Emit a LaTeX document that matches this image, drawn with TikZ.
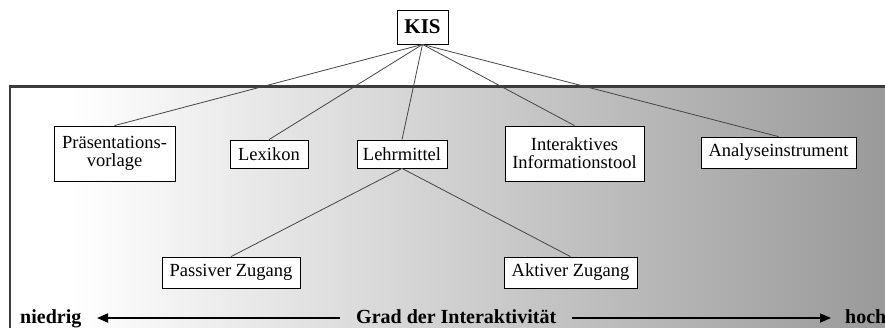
\documentclass[tikz,border=0pt]{standalone}
\usepackage{fontspec}
\setmainfont{Liberation Serif}
\usetikzlibrary{arrows.meta}
\definecolor{gradend}{HTML}{989898}
\definecolor{frame}{HTML}{3C3C3C}
\definecolor{conn}{HTML}{454545}
\tikzset{
  box/.style={draw=black, line width=0.8pt, fill=white, inner sep=0pt, align=center,
    font=\fontsize{18.5}{17.7}\selectfont},
  conn/.style={draw=conn, line width=0.8pt},
  scale lbl/.style={font=\bfseries\fontsize{20}{22}\selectfont, inner sep=0pt, anchor=base west},
  axisarrow/.style={line width=1.7pt, -{Triangle[length=11pt,width=9pt]}}
}
\begin{document}
\begin{tikzpicture}[x=1pt,y=-1pt]
\useasboundingbox (0,0) rectangle (885,327);
\begin{scope}
\clip (0,0) rectangle (885,327);
\fill[white] (10,86.5) rectangle (70,340);
\shade[left color=white, right color=gradend] (70,86.5) rectangle (900,340);
\draw[frame, line width=2.8pt] (10,340) -- (10,86.5) -- (900,86.5);
\end{scope}

\node[box, font=\bfseries\fontsize{21}{22}\selectfont, minimum width=51pt, minimum height=34pt] (kis) at (422.5,27) {KIS};

\node[box, minimum width=121pt, minimum height=55pt] (praes) at (114.5,153.5) {Präsentations-\\vorlage};
\node[box, minimum width=78pt, minimum height=28pt] (lex) at (269,154) {Lexikon};
\node[box, minimum width=90pt, minimum height=28pt] (lehr) at (402,154) {Lehrmittel};
\node[box, minimum width=139pt, minimum height=55pt] (inter) at (574.5,153.5) {Interaktives\\Informationstool};
\node[box, minimum width=155pt, minimum height=31pt] (anal) at (778.5,152.5) {Analyseinstrument};
\node[box, minimum width=138pt, minimum height=31pt] (pass) at (231,272.5) {Passiver Zugang};
\node[box, minimum width=133pt, minimum height=31pt] (akt) at (570.5,272.5) {Aktiver Zugang};

\foreach \t in {praes,lex,lehr,inter,anal}
  \draw[conn] (kis.south) -- (\t.north);
\draw[conn] (lehr.south) -- (pass.north);
\draw[conn] (lehr.south) -- (akt.north);

\node[scale lbl] (low) at (20,323) {niedrig};
\node[scale lbl] (grad) at (356,323) {Grad der Interaktivität};
\node[scale lbl] (high) at (845,323) {hoch};
\coordinate (la) at (340,318);
\coordinate (lb) at (97,318);
\coordinate (ra) at (572,318);
\coordinate (rb) at (831,318);
\draw[axisarrow] (la) -- (lb);
\draw[axisarrow] (ra) -- (rb);
\end{tikzpicture}
\end{document}
